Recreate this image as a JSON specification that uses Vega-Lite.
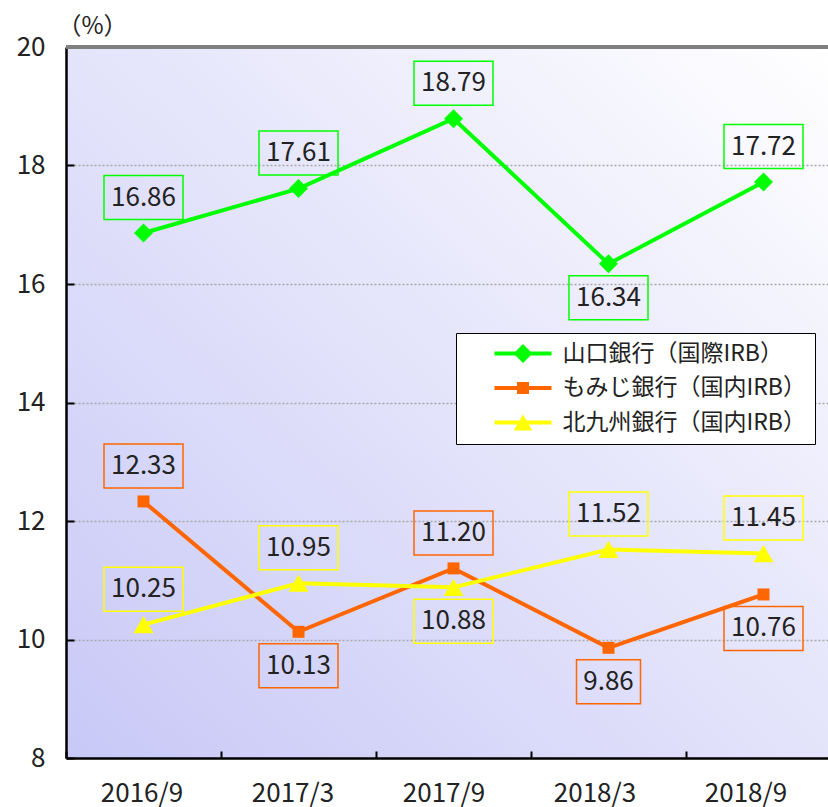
{
  "$schema": "https://vega.github.io/schema/vega-lite/v6.json",
  "width": 762,
  "height": 711,
  "autosize": {"type": "none"},
  "padding": {"left": 66, "top": 47, "right": 0, "bottom": 49},
  "background": "white",
  "view": {
    "stroke": null,
    "fill": {
      "gradient": "linear",
      "x1": 0, "y1": 1, "x2": 1, "y2": 0,
      "stops": [
        {"offset": 0, "color": "#c8c8f7"},
        {"offset": 1, "color": "#ffffff"}
      ]
    }
  },
  "config": {"font": "Noto Sans CJK JP"},
  "data": {
    "values": [
      {"date": "2016/9", "bank": "山口銀行（国際IRB）", "value": 16.86, "pos": "above"},
      {"date": "2017/3", "bank": "山口銀行（国際IRB）", "value": 17.61, "pos": "above"},
      {"date": "2017/9", "bank": "山口銀行（国際IRB）", "value": 18.79, "pos": "above"},
      {"date": "2018/3", "bank": "山口銀行（国際IRB）", "value": 16.34, "pos": "below"},
      {"date": "2018/9", "bank": "山口銀行（国際IRB）", "value": 17.72, "pos": "above"},
      {"date": "2016/9", "bank": "もみじ銀行（国内IRB）", "value": 12.33, "pos": "above"},
      {"date": "2017/3", "bank": "もみじ銀行（国内IRB）", "value": 10.13, "pos": "below"},
      {"date": "2017/9", "bank": "もみじ銀行（国内IRB）", "value": 11.20, "pos": "above"},
      {"date": "2018/3", "bank": "もみじ銀行（国内IRB）", "value": 9.86, "pos": "below"},
      {"date": "2018/9", "bank": "もみじ銀行（国内IRB）", "value": 10.76, "pos": "below"},
      {"date": "2016/9", "bank": "北九州銀行（国内IRB）", "value": 10.25, "pos": "above"},
      {"date": "2017/3", "bank": "北九州銀行（国内IRB）", "value": 10.95, "pos": "above"},
      {"date": "2017/9", "bank": "北九州銀行（国内IRB）", "value": 10.88, "pos": "below"},
      {"date": "2018/3", "bank": "北九州銀行（国内IRB）", "value": 11.52, "pos": "above"},
      {"date": "2018/9", "bank": "北九州銀行（国内IRB）", "value": 11.45, "pos": "above"}
    ]
  },
  "layer": [
    {
      "mark": {"type": "line", "strokeWidth": 4},
      "encoding": {
        "x": {
          "field": "date",
          "type": "ordinal",
          "scale": {
            "type": "band",
            "domain": ["2016/9", "2017/3", "2017/9", "2018/3", "2018/9"],
            "range": [0, 775],
            "paddingInner": 0,
            "paddingOuter": 0
          },
          "axis": {
            "title": null,
            "labelAngle": 0,
            "labelFontSize": 26,
            "labelColor": "#222222",
            "labelPadding": 29,
            "labelOffset": {
              "condition": [
                {"test": "datum.value == '2017/3'", "value": -6},
                {"test": "datum.value == '2017/9'", "value": -10},
                {"test": "datum.value == '2018/3'", "value": -14},
                {"test": "datum.value == '2018/9'", "value": -18}
              ],
              "value": -2
            },
            "tickSize": -7,
            "tickWidth": 2,
            "tickColor": "black",
            "tickBand": "extent",
            "domainColor": "black",
            "domainWidth": 2.5,
            "grid": false
          }
        },
        "y": {
          "field": "value",
          "type": "quantitative",
          "scale": {"domain": [8, 20], "nice": false, "zero": false},
          "axis": {
            "values": [8, 10, 12, 14, 16, 18, 20],
            "format": "d",
            "title": "（%）",
            "titleAngle": 0,
            "titleX": 26,
            "titleY": -21,
            "titleAlign": "center",
            "titleBaseline": "middle",
            "titleFontSize": 24,
            "titleFontWeight": "normal",
            "titleColor": "#222222",
            "labelFontSize": 26,
            "labelColor": "#222222",
            "labelPadding": 29,
            "tickSize": -8,
            "tickWidth": 2,
            "tickColor": "black",
            "domainColor": "black",
            "domainWidth": 2.5,
            "grid": true,
            "gridDash": [2, 2],
            "gridColor": "#a8a8a8",
            "gridWidth": 1.5
          }
        },
        "color": {
          "field": "bank",
          "type": "nominal",
          "scale": {
            "domain": ["山口銀行（国際IRB）", "もみじ銀行（国内IRB）", "北九州銀行（国内IRB）"],
            "range": ["#00ff00", "#ff6600", "#ffff00"]
          },
          "legend": {
            "orient": "none",
            "legendX": 390,
            "legendY": 286,
            "title": null,
            "direction": "vertical",
            "fillColor": "white",
            "strokeColor": "black",
            "padding": 9,
            "rowPadding": 10.5,
            "symbolSize": 400,
            "symbolOpacity": 1,
            "symbolStrokeWidth": 0,
            "symbolOffset": 46.5,
            "labelOffset": 28,
            "labelFontSize": 23,
            "labelColor": "#222222",
            "labelLimit": 500,
            "labelExpr": "datum.label + '　    '"
          }
        }
      }
    },
    {
      "transform": [{"filter": "datum.value < 0"}],
      "mark": {"type": "point", "filled": true, "opacity": 1},
      "encoding": {
        "x": {"field": "date", "type": "ordinal"},
        "y": {"field": "value", "type": "quantitative"},
        "color": {"field": "bank", "type": "nominal"},
        "shape": {
          "field": "bank",
          "type": "nominal",
          "scale": {
            "domain": ["山口銀行（国際IRB）", "もみじ銀行（国内IRB）", "北九州銀行（国内IRB）"],
            "range": [
              "M-2.85,-0.2H2.85V0.2H-2.85ZM0,-0.95L0.95,0L0,0.95L-0.95,0Z",
              "M-2.85,-0.2H2.85V0.2H-2.85ZM-0.6,-0.6H0.6V0.6H-0.6Z",
              "M-2.85,-0.2H2.85V0.2H-2.85ZM0,-0.8L0.92,0.8H-0.92Z"
            ]
          },
          "legend": null
        },
        "size": {"value": 400}
      }
    },
    {
      "mark": {"type": "rule", "color": "#808080", "strokeWidth": 2.5},
      "encoding": {"y": {"datum": 20, "type": "quantitative"}}
    },
    {
      "transform": [{"filter": "datum.bank == '山口銀行（国際IRB）'"}],
      "mark": {"type": "point", "filled": true, "opacity": 1, "shape": "diamond", "size": 361, "color": "#00ff00"},
      "encoding": {
        "x": {"field": "date", "type": "ordinal"},
        "y": {"field": "value", "type": "quantitative"}
      }
    },
    {
      "transform": [{"filter": "datum.bank == 'もみじ銀行（国内IRB）'"}],
      "mark": {"type": "point", "filled": true, "opacity": 1, "shape": "square", "size": 144, "color": "#ff6600"},
      "encoding": {
        "x": {"field": "date", "type": "ordinal"},
        "y": {"field": "value", "type": "quantitative"}
      }
    },
    {
      "transform": [{"filter": "datum.bank == '北九州銀行（国内IRB）'"}],
      "mark": {"type": "point", "filled": true, "opacity": 1, "shape": "triangle-up", "size": 400, "color": "#ffff00"},
      "encoding": {
        "x": {"field": "date", "type": "ordinal"},
        "y": {"field": "value", "type": "quantitative"}
      }
    },
    {
      "transform": [{"filter": "datum.pos == 'above'"}],
      "mark": {"type": "point", "filled": false, "opacity": 1, "strokeWidth": 1.5, "yOffset": -35.5},
      "encoding": {
        "x": {"field": "date", "type": "ordinal"},
        "y": {"field": "value", "type": "quantitative"},
        "stroke": {
          "field": "bank",
          "type": "nominal",
          "scale": {
            "domain": ["山口銀行（国際IRB）", "もみじ銀行（国内IRB）", "北九州銀行（国内IRB）"],
            "range": ["#00ff00", "#ff6600", "#ffff00"]
          },
          "legend": null
        },
        "shape": {"condition": {"test": "datum.value < 10", "value": "M-0.81,-0.557H0.81V0.557H-0.81Z"}, "value": "M-1,-0.557H1V0.557H-1Z"},
        "size": {"value": 6241}
      }
    },
    {
      "transform": [{"filter": "datum.pos == 'below'"}],
      "mark": {"type": "point", "filled": false, "opacity": 1, "strokeWidth": 1.5, "yOffset": 34},
      "encoding": {
        "x": {"field": "date", "type": "ordinal"},
        "y": {"field": "value", "type": "quantitative"},
        "stroke": {"field": "bank", "type": "nominal", "legend": null},
        "shape": {"condition": {"test": "datum.value < 10", "value": "M-0.81,-0.557H0.81V0.557H-0.81Z"}, "value": "M-1,-0.557H1V0.557H-1Z"},
        "size": {"value": 6241}
      }
    },
    {
      "transform": [{"filter": "datum.pos == 'above'"}],
      "mark": {"type": "text", "fontSize": 26, "color": "#222222", "baseline": "middle", "align": "center", "yOffset": -35.5},
      "encoding": {
        "x": {"field": "date", "type": "ordinal"},
        "y": {"field": "value", "type": "quantitative"},
        "text": {"field": "value", "type": "quantitative", "format": ".2f"}
      }
    },
    {
      "transform": [{"filter": "datum.pos == 'below'"}],
      "mark": {"type": "text", "fontSize": 26, "color": "#222222", "baseline": "middle", "align": "center", "yOffset": 34},
      "encoding": {
        "x": {"field": "date", "type": "ordinal"},
        "y": {"field": "value", "type": "quantitative"},
        "text": {"field": "value", "type": "quantitative", "format": ".2f"}
      }
    }
  ]
}
